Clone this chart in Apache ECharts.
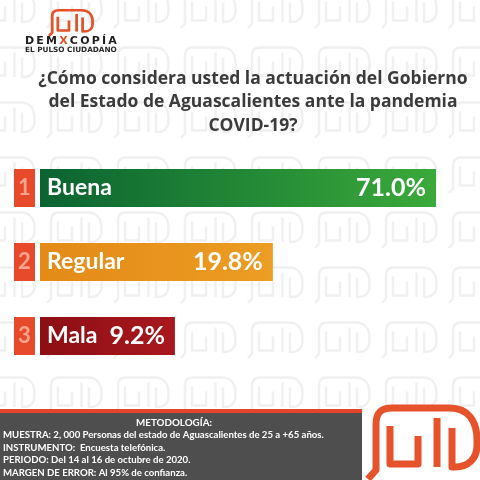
<!DOCTYPE html>
<html>
<head>
<meta charset="utf-8">
<script src="https://cdn.jsdelivr.net/npm/echarts@6/dist/echarts.min.js"></script>
<style>
html,body{margin:0;padding:0;background:#fff;}
#chart{width:480px;height:480px;}
</style>
</head>
<body>
<div id="chart"></div>
<script>
// ---- data ----
const categories = ['Buena', 'Regular', 'Mala'];
const values = [71.0, 19.8, 9.2];
const ranks = ['1', '2', '3'];
const colorStart = ['#0b6331', '#e38a17', '#8c0f14'];
const colorEnd = ['#3aaa3a', '#ec9d23', '#a9181e'];
const titleLines = [
  '¿Cómo considera usted la actuación del Gobierno',
  'del Estado de Aguascalientes ante la pandemia',
  'COVID-19?'
];
const footerTitle = 'METODOLOGÍA:';
const footerLines = [
  'MUESTRA: 2, 000 Personas del estado de Aguascalientes de 25 a +65 años.',
  'INSTRUMENTO:  Encuesta telefónica.',
  'PERIODO: Del 14 al 16 de octubre de 2020.',
  'MARGEN DE ERROR: Al 95% de confianza.'
];

// ---- logo shape (local coords) ----
const logoPaths = [
  'M 0 72 L 8 63 L 8 17 C 8 6 13 1 24 1 L 82 1 C 100 1 109 14 109 33 L 109 38 C 109 52 100 60 87 60 L 84 60 L 84 21',
  'M 22 19 L 22 57 L 50 57 L 50 29',
  'M 69 11 L 69 60'
];
logoPaths.forEach((p, i) => {
  echarts.graphic.registerShape('logoPart' + i, echarts.graphic.extendPath(p, {}));
});
function logo(x, y, sx, sy, color, lw, z) {
  return {
    type: 'group', x: x, y: y, scaleX: sx, scaleY: sy, z: z, silent: true,
    children: logoPaths.map((p, i) => ({
      type: 'logoPart' + i, z: z,
      style: { fill: null, stroke: color, lineWidth: lw, lineJoin: 'round' }
    }))
  };
}

const graphics = [];
// watermark pattern
for (let r = 0; r < 9; r++) {
  for (let c = 0; c < 9; c++) {
    graphics.push(logo(-20 + c * 67, -8 + r * 55, 0.5, 0.5, '#f0f0f0', 5, -20));
  }
}
// header logo
graphics.push(logo(49, 10, 0.4, 0.36, '#e5532b', 7, 10));
const thin = '\u2009';
graphics.push({
  type: 'text', x: 25, y: 36, z: 10,
  style: {
    text: '{a|' + 'DEM'.split('').join(thin) + thin + '}{x|X}{a|' + thin + 'COPÍA'.split('').join(thin) + '}',
    rich: {
      a: { fontFamily: 'DejaVu Sans', fontWeight: 'bold', fontSize: 11, fill: '#1e1e1e' },
      x: { fontFamily: 'DejaVu Sans', fontWeight: 'bold', fontSize: 11, fill: '#e5532b' }
    }
  }
});
graphics.push({
  type: 'text', x: 25, y: 47, z: 10,
  style: { text: 'EL PULSO CIUDADANO', fontFamily: 'DejaVu Sans', fontWeight: 'bold', fontSize: 7.3, fill: '#2a2a2a' }
});
// title
graphics.push({
  type: 'text', x: 253, y: 67, z: 10,
  style: {
    text: titleLines.join('\n'), textAlign: 'center',
    fontFamily: 'Open Sans', fontWeight: 'bold', fontSize: 17.5, lineHeight: 23.5, fill: '#3b3b3b'
  }
});
// footer
graphics.push({ type: 'rect', z: 5, shape: { x: 0, y: 413, width: 362, height: 67 }, style: { fill: '#4e4e4e' } });
graphics.push({ type: 'rect', z: 5, shape: { x: 0, y: 409, width: 362, height: 4 }, style: { fill: '#e6452b' } });
graphics.push({
  type: 'text', x: 174, y: 418, z: 10,
  style: { text: footerTitle, textAlign: 'center', fontFamily: 'Lato', fontWeight: 'bold', fontSize: 9.8, fill: '#ffffff' }
});
footerLines.forEach((t, i) => {
  graphics.push({
    type: 'text', x: 3, y: 430 + i * 12.5, z: 10,
    style: { text: t, fontFamily: 'Lato', fontWeight: 'bold', fontSize: 9.6, fill: '#ffffff' }
  });
});
graphics.push({ type: 'rect', z: 4, shape: { x: 362, y: 413, width: 120, height: 67 }, style: { fill: '#ffffff' } });
graphics.push(logo(368, 407, 1, 1, '#e6522a', 7, 10));

const chart = echarts.init(document.getElementById('chart'), null, { renderer: 'canvas' });
chart.setOption({
  backgroundColor: '#ffffff',
  animation: false,
  graphic: graphics,
  grid: { left: 40, width: 396, top: 151, height: 222, containLabel: false },
  xAxis: {
    type: 'log', logBase: 10, min: 3.2, max: 71, startValue: 3.2, show: false
  },
  yAxis: {
    type: 'category', inverse: true, data: categories,
    axisLine: { show: false }, axisTick: { show: false }, splitLine: { show: false },
    axisLabel: {
      margin: 5,
      formatter: (v, i) => '{n|' + ranks[i] + '}',
      rich: {
        n: {
          width: 21, height: 38, lineHeight: 38, align: 'center',
          backgroundColor: '#e64a2b', color: '#f6a38e',
          fontFamily: 'Lato', fontWeight: 'bold', fontSize: 22
        }
      }
    }
  },
  series: [
    {
      type: 'bar', barWidth: 38, barGap: '-100%', silent: true, z: 3,
      data: values.map((v, i) => ({
        value: v,
        itemStyle: {
          color: { type: 'linear', x: 0, y: 0, x2: 1, y2: 0,
            colorStops: [{ offset: 0, color: colorStart[i] }, { offset: 1, color: colorEnd[i] }] }
        }
      })),
      label: {
        show: true, position: 'insideLeft', distance: 7,
        formatter: p => p.name,
        color: '#ffffff', fontFamily: 'Lato', fontWeight: 'bold', fontSize: 23
      }
    },
    {
      type: 'bar', barWidth: 38, barGap: '-100%', silent: true, z: 4,
      data: values,
      itemStyle: { color: 'rgba(0,0,0,0)' },
      label: {
        show: true, position: 'insideRight', distance: 10,
        formatter: p => p.value.toFixed(1) + '%',
        color: '#ffffff', fontFamily: 'Lato', fontWeight: 'bold', fontSize: 25
      }
    }
  ]
});
</script>
</body>
</html>
